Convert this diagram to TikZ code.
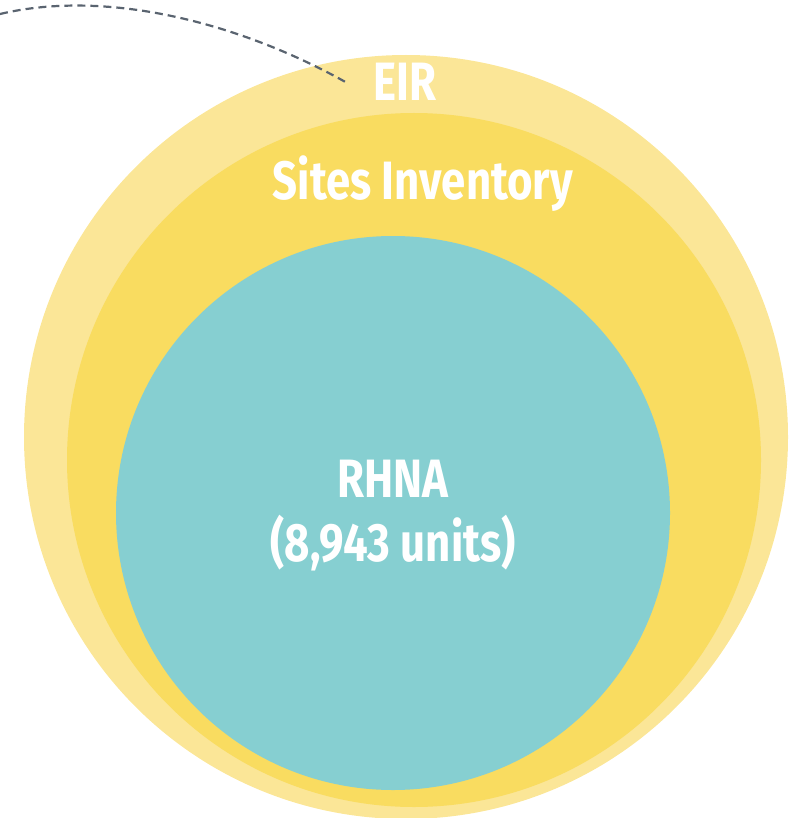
\documentclass[tikz,border=0pt]{standalone}
\usepackage{fontspec}
\newfontfamily\labelfont[FakeStretch=0.81]{Fira Sans}
\usetikzlibrary{positioning}
\definecolor{eiryellow}{HTML}{FBE697}
\definecolor{siteyellow}{HTML}{F9DC60}
\definecolor{rhnateal}{HTML}{86CFD1}
\definecolor{linegray}{HTML}{5A6470}

\begin{document}
\begin{tikzpicture}[x=1pt, y=-1pt, label/.style={text=white, font=\labelfont\bfseries\fontsize{54}{64}\selectfont, align=center, inner sep=2pt}]
      \useasboundingbox (0, 0) rectangle (791, 818);
      \node (eir)[circle, fill=eiryellow, inner sep=0, minimum size=764pt] at (406, 437) {};
      \node (sites)[circle, fill=siteyellow, inner sep=0, minimum size=694pt] at (414, 460) {};
      \node (rhna)[circle, fill=rhnateal, inner sep=0, minimum size=554pt] at (393, 513) {};
      \node (eirlabel)[label] at (405, 82) {EIR};
      \node (siteslabel)[label] at (423, 184) {Sites Inventory};
      \node (rhnalabel)[label] at (393, 516) {RHNA\\(8,943 units)};
      \coordinate (start) at (0, 14);
      \coordinate (tip) at (349, 84);
      \draw[linegray, line width=2.2pt, dash pattern=on 8pt off 5pt] (start) .. controls (110, -12) and (245, 25) .. (tip);
    \end{tikzpicture}
\end{document}
